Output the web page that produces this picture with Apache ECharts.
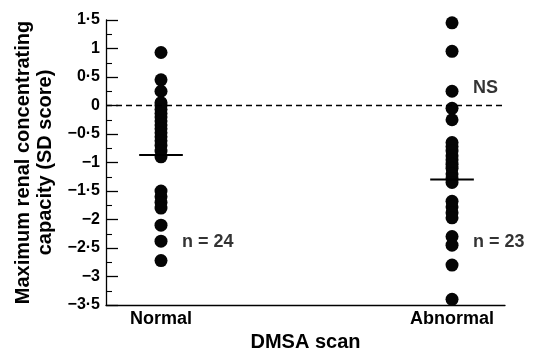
<!DOCTYPE html>
<html>
<head>
<meta charset="utf-8">
<script src="https://cdn.jsdelivr.net/npm/echarts@6/dist/echarts.min.js"></script>
<style>
  html, body { margin: 0; padding: 0; background: #fff; }
  #chart { width: 542px; height: 353px; }
</style>
</head>
<body>
<div id="chart"></div>
<script>
const categories = ['Normal', 'Abnormal'];
const normalValues = [0.93, 0.45, 0.25, 0.05, 0.0, -0.07, -0.14, -0.2, -0.27, -0.34, -0.41, -0.48, -0.55,
  -0.62, -0.7, -0.8, -0.9, -1.5, -1.6, -1.7, -1.8, -2.1, -2.38, -2.72];
const abnormalValues = [1.45, 0.95, 0.25, -0.05, -0.25, -0.65, -0.72, -0.8, -0.88, -0.95, -1.03, -1.1,
  -1.2, -1.28, -1.35, -1.68, -1.78, -1.88, -1.97, -2.3, -2.45, -2.8, -3.4];
const medians = [-0.87, -1.3];
const counts = ['n = 24', 'n = 23'];
const yTicks = [-3.5, 1.5, 0.5];

const font = 'Liberation Sans, Arial, sans-serif';
const fmt = (v) => {
  const s = Math.abs(v).toString().replace('.', '·');
  return v < 0 ? '−' + s : s;
};

const chart = echarts.init(document.getElementById('chart'), null, { renderer: 'canvas' });

const pos = (i) => i + 1;
const medianHalf = 0.075;

chart.setOption({
  animation: false,
  backgroundColor: '#fff',
  grid: { left: 106, right: 37, top: 20, bottom: 48, outerBoundsMode: 'none', containLabel: false },
  xAxis: {
    type: 'value',
    min: 0.811,
    max: 2.182,
    name: 'DMSA scan',
    nameLocation: 'middle',
    nameGap: 25,
    nameTextStyle: { fontFamily: font, fontSize: 20, fontWeight: 'bold', color: '#000', verticalAlign: 'top' },
    axisLine: { onZero: false, lineStyle: { color: '#000', width: 1.3 } },
    axisTick: { show: false },
    splitLine: { show: false },
    axisLabel: {
      customValues: [1, 2],
      formatter: (v) => categories[Math.round(v) - 1],
      fontFamily: font, fontSize: 18, fontWeight: 'bold', color: '#000', margin: 5
    }
  },
  yAxis: {
    type: 'value',
    min: yTicks[0],
    max: yTicks[1],
    interval: yTicks[2],
    name: 'Maximum renal concentrating\ncapacity (SD score)',
    nameLocation: 'middle',
    nameGap: 49,
    nameTextStyle: { fontFamily: font, fontSize: 20, fontWeight: 'bold', color: '#000', lineHeight: 22 },
    axisLine: { show: true, onZero: false, lineStyle: { color: '#000', width: 1.3 } },
    axisTick: { show: true, inside: true, length: 12, lineStyle: { color: '#000', width: 1.3 } },
    minorTick: { show: true, splitNumber: 2, length: 6, lineStyle: { color: '#000', width: 1.1 } },
    splitLine: { show: false },
    axisLabel: { formatter: fmt, fontFamily: font, fontSize: 16, fontWeight: 'bold', color: '#000', margin: 6 }
  },
  series: [
    {
      type: 'scatter',
      symbolSize: 13,
      itemStyle: { color: '#050505', opacity: 1 },
      data: normalValues.map((v) => [pos(0), v]),
      markLine: {
        silent: true,
        symbol: 'none',
        label: { show: false },
        lineStyle: { color: '#000', type: [6, 4], width: 1.3 },
        data: [{ yAxis: 0 }]
      },
      z: 3
    },
    {
      type: 'scatter',
      symbolSize: 13,
      itemStyle: { color: '#050505', opacity: 1 },
      data: abnormalValues.map((v) => [pos(1), v]),
      z: 3
    },
    {
      type: 'custom',
      z: 4,
      renderItem: (params, api) => {
        const x = api.value(0), y = api.value(1);
        const p1 = api.coord([x - medianHalf, y]);
        const p2 = api.coord([x + medianHalf, y]);
        return {
          type: 'line',
          shape: { x1: p1[0], y1: p1[1], x2: p2[0], y2: p2[1] },
          style: { stroke: '#000', lineWidth: 2 }
        };
      },
      data: medians.map((m, i) => [pos(i), m])
    },
    {
      type: 'scatter',
      symbolSize: 0,
      silent: true,
      label: {
        show: true,
        position: 'right',
        formatter: (p) => p.data[2],
        fontFamily: font, fontSize: 18, fontWeight: 'bold', color: '#000', distance: 21
      },
      data: [
        [pos(0), -2.4, counts[0]],
        [pos(1), -2.4, counts[1]],
        [pos(1), 0.3, 'NS']
      ]
    }
  ]
});
</script>
</body>
</html>
